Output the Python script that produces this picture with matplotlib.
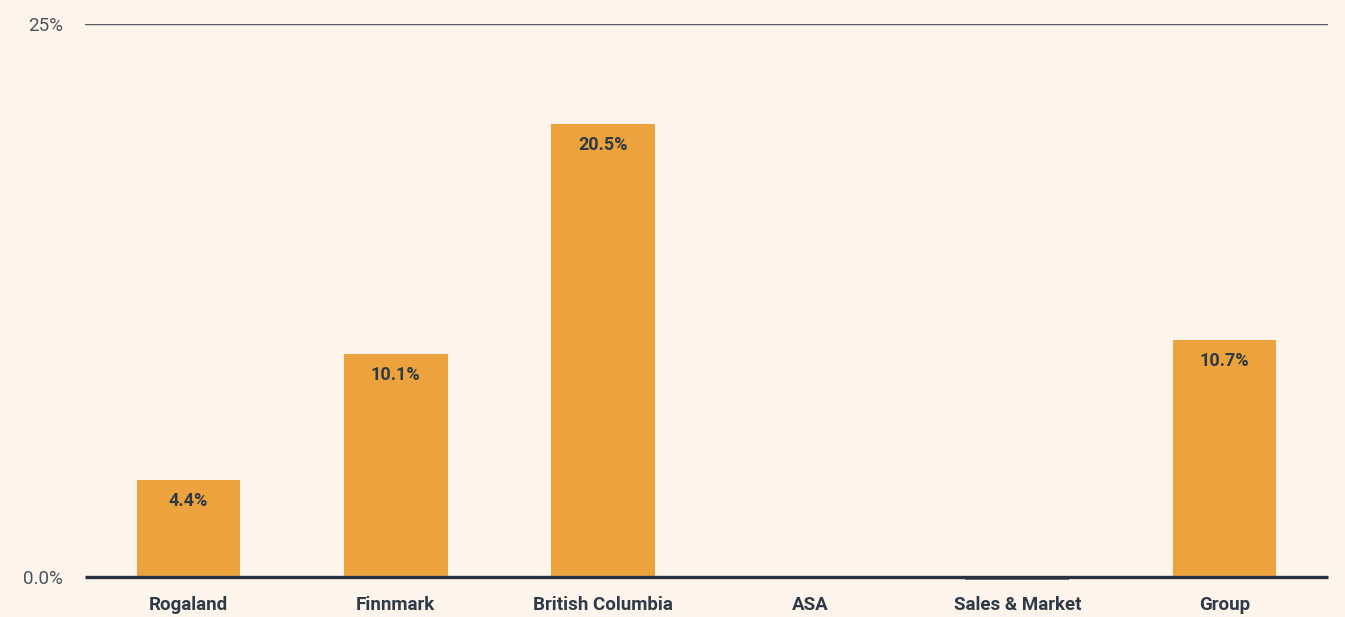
import matplotlib.pyplot as plt

categories = ['Rogaland', 'Finnmark', 'British Columbia', 'ASA', 'Sales & Market', 'Group']
values = [4.4, 10.1, 20.5, 0.0, -0.15, 10.7]
labels = ['4.4%', '10.1%', '20.5%', '', '', '10.7%']

bg = '#fdf4eb'
bar_color = '#eda33d'
text_color = '#2e3a46'

plt.rcParams['font.family'] = ['Roboto', 'DejaVu Sans']

fig = plt.figure(figsize=(13.45, 6.17), dpi=100, facecolor=bg)
ax = fig.add_axes([85 / 1345, 40 / 617, 1243 / 1345, 553 / 617])
ax.set_facecolor(bg)

x = range(len(categories))
colors = [bar_color if v >= 0 else '#6f7478' for v in values]
bars = ax.bar(x, values, width=0.5, color=colors, zorder=2)
for b in bars:
    b.set_clip_on(False)

for i, (v, lab) in enumerate(zip(values, labels)):
    if lab:
        ax.text(i, v - 0.95, lab, ha='center', va='center', fontsize=13,
                fontweight='bold', color=text_color, zorder=3)

ax.axhline(25, color='#555b61', linewidth=1, zorder=1)
ax.axhline(0, color='#27323d', linewidth=2.4, zorder=3, clip_on=False,
           solid_capstyle='butt')

ax.set_xlim(-0.5, 5.5)
ax.set_ylim(0, 25)
ax.set_yticks([0, 25])
ax.set_yticklabels(['0.0%', '25%'], fontsize=13.5, color='#4a535c')
ax.set_xticks(list(x))
ax.set_xticklabels(categories, fontsize=13.5, fontweight='bold', color=text_color)
ax.tick_params(length=0)
ax.tick_params(axis='y', pad=16)
ax.tick_params(axis='x', pad=14)
for s in ax.spines.values():
    s.set_visible(False)

fig.savefig('out.png', dpi=100, facecolor=bg)
